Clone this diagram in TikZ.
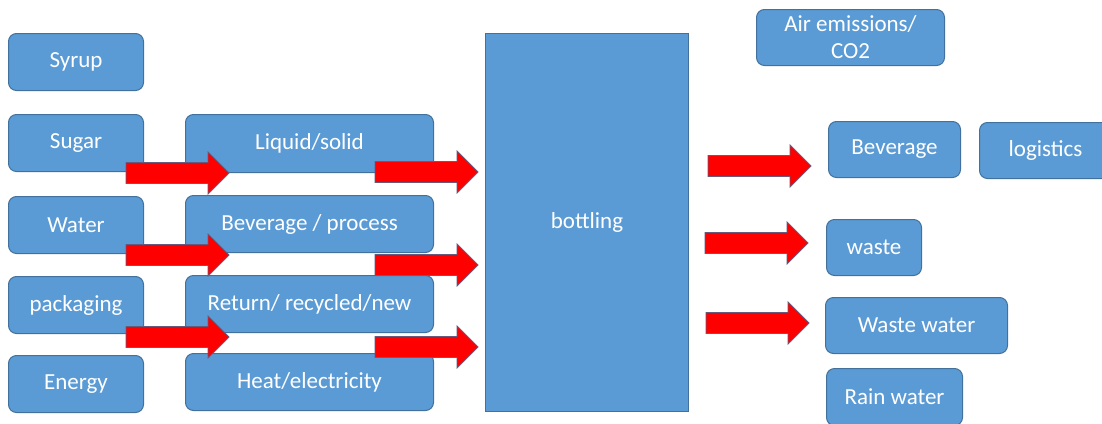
\documentclass[tikz,border=0pt]{standalone}
\usepackage{fontspec}
\setmainfont{Carlito}
\usepackage{tikz}
\definecolor{boxblue}{HTML}{5B9BD5}
\definecolor{boxline}{HTML}{41719C}
\tikzstyle{mybox}=[draw=boxline,fill=boxblue,line width=1pt,rounded corners=8pt,text=white,inner sep=0pt,anchor=north west,align=center,font=\fontsize{23}{27}\selectfont]
\tikzstyle{myarrow}=[fill=red,draw=boxline!80!red,line width=0.8pt,line join=miter]

\begin{document}
\begin{tikzpicture}[x={(1pt,0)},y={(0,-1pt)}]
	\useasboundingbox[fill=white] (0,0) rectangle (1102,423);
		% inputs
		\foreach \n / \t / \y in {syrup/Syrup/33,sugar/Sugar/114,water/Water/196,pack/packaging/276,energy/Energy/355}{ \node[mybox,minimum width=135pt,minimum height=57pt] (\n) at (8,\y) {\t};}
		\node[mybox,minimum width=248pt,minimum height=58pt] (liquid) at (185,114) {Liquid/solid};
		\node[mybox,minimum width=248pt,minimum height=57pt] (process) at (185,195) {Beverage / process};
		\node[mybox,minimum width=248pt,minimum height=57pt] (recycled) at (185,275) {Return/ recycled/new};
		\node[mybox,minimum width=248pt,minimum height=57pt] (heat) at (185,353) {Heat/electricity};
		\node[mybox,rounded corners=0pt,minimum width=203pt,minimum height=378pt] (bottling) at (485,33) {bottling};
		% outputs
		\node[mybox,minimum width=188pt,minimum height=56pt] (air) at (756,9) {Air emissions/\\CO2};
		\node[mybox,minimum width=132pt,minimum height=56pt] (beverage) at (828,121) {Beverage};
		\node[mybox,minimum width=132pt,minimum height=56pt] (logistics) at (979,122) {logistics};
		\node[mybox,minimum width=95pt,minimum height=56pt] (waste) at (826,219) {waste};
		\node[mybox,minimum width=182pt,minimum height=56pt] (wastewater) at (825,297) {Waste water};
		\node[mybox,minimum width=136pt,minimum height=57pt] (rain) at (826,368) {Rain water};
		% red arrows
		\foreach \x / \y in {126/173,126/255,126/337,375/172,375/265,375/347,708/166,705/243,706/323}{ \filldraw[myarrow] (\x,{\y-10.5}) -- ({\x+82},{\y-10.5}) -- ({\x+82},{\y-21}) -- ({\x+103},\y) -- ({\x+82},{\y+21}) -- ({\x+82},{\y+10.5}) -- (\x,{\y+10.5}) -- cycle;}
\end{tikzpicture}
\end{document}
